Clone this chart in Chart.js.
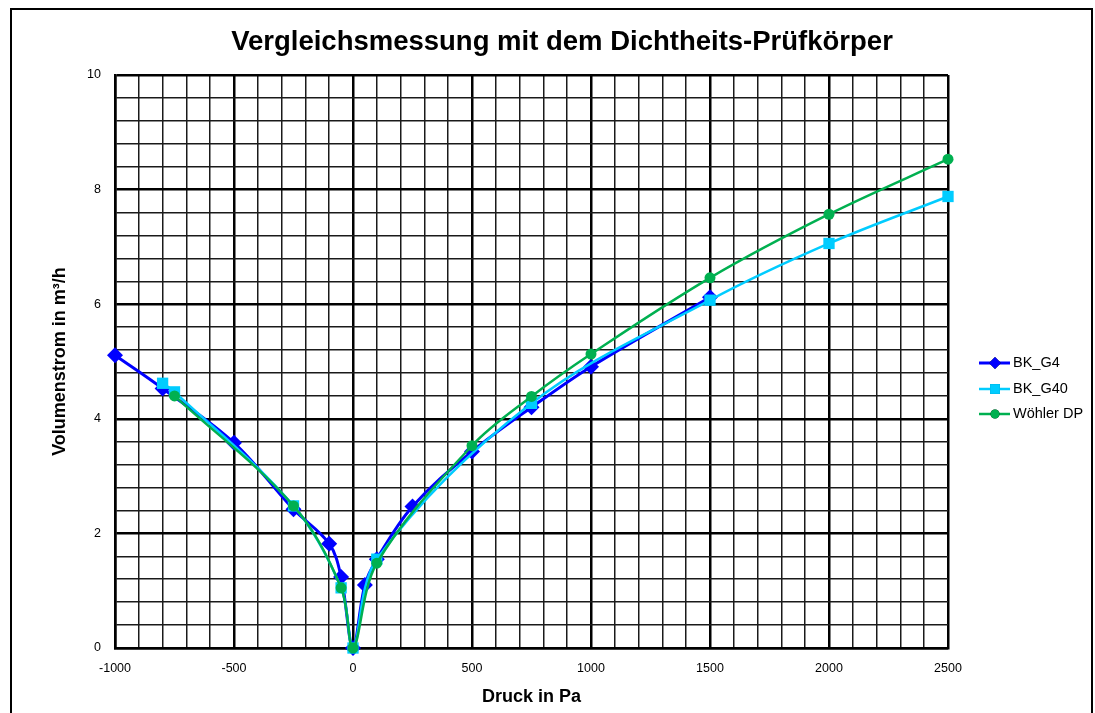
<!DOCTYPE html>
<html lang="de">
<head>
<meta charset="utf-8">
<title>Vergleichsmessung mit dem Dichtheits-Prüfkörper</title>
<script src="https://cdn.jsdelivr.net/npm/chart.js@4.4.1/dist/chart.umd.min.js"></script>
<style>
  html, body { margin: 0; padding: 0; background: #fff; }
  #wrap { width: 1095px; height: 713px; }
</style>
</head>
<body>
<div id="wrap"><canvas id="myChart" width="1095" height="713"></canvas></div>
<script>
// Messwerte (Druck in Pa / Volumenstrom in m³/h)
const bkG4Druck = [-1000, -800, -500, -250, -100, -50, 0, 50, 100, 250, 500, 750, 1000, 1500];
const bkG4Strom = [5.11, 4.53, 3.58, 2.42, 1.82, 1.24, 0, 1.10, 1.55, 2.47, 3.43, 4.20, 4.91, 6.12];

const bkG40Druck = [-800, -750, -250, -50, 0, 100, 750, 1500, 2000, 2500];
const bkG40Strom = [4.62, 4.47, 2.48, 1.05, 0, 1.55, 4.27, 6.07, 7.06, 7.88];

const woehlerDruck = [-750, -250, -50, 0, 100, 500, 750, 1000, 1500, 2000, 2500];
const woehlerStrom = [4.40, 2.48, 1.05, 0, 1.48, 3.53, 4.39, 5.13, 6.46, 7.57, 8.53];

const seriesNames = ['BK_G4', 'BK_G40', 'Wöhler DP'];
const xTicks = [-1000, -500, 0, 500, 1000, 1500, 2000, 2500];
const yTicks = [0, 2, 4, 6, 8, 10];

const FONT = '"Liberation Sans", Arial, sans-serif';

function toPoints(xs, ys) {
  return xs.map((x, i) => ({ x: x, y: ys[i] }));
}

function isMajor(value, list) {
  return list.some(t => Math.abs(t - value) < 1e-6);
}

// Titel, Rahmen und Legende
const extras = {
  id: 'extras',
  afterDraw(chart) {
    const ctx = chart.ctx;
    ctx.save();
    ctx.strokeStyle = '#000';
    ctx.lineWidth = 2;
    ctx.strokeRect(11, 9, 1081, 720);

    ctx.fillStyle = '#000';
    ctx.font = 'bold 27.5px ' + FONT;
    ctx.textAlign = 'center';
    ctx.textBaseline = 'middle';
    ctx.fillText('Vergleichsmessung mit dem Dichtheits-Prüfkörper', 562, 42);

    const rows = [363, 389, 414];
    chart.data.datasets.forEach((ds, i) => {
      const y = rows[i];
      ctx.strokeStyle = ds.borderColor;
      ctx.lineWidth = ds.borderWidth;
      ctx.beginPath();
      ctx.moveTo(979, y);
      ctx.lineTo(1010, y);
      ctx.stroke();
      Chart.helpers.drawPoint(ctx, {
        pointStyle: ds.pointStyle,
        radius: ds.legendRadius,
        borderWidth: 0,
        rotation: 0
      }, 995, y);
      ctx.fillStyle = ds.backgroundColor;
      ctx.fill();
      ctx.fillStyle = '#000';
      ctx.font = '14.5px ' + FONT;
      ctx.textAlign = 'left';
      ctx.textBaseline = 'middle';
      ctx.fillText(seriesNames[i], 1013, y);
    });
    ctx.restore();
  }
};

document.addEventListener('DOMContentLoaded', () => {
  const ctx = document.getElementById('myChart').getContext('2d');
  new Chart(ctx, {
    type: 'scatter',
    data: {
      datasets: [
        {
          label: seriesNames[0],
          data: toPoints(bkG4Druck, bkG4Strom),
          borderColor: '#0000FF',
          backgroundColor: '#0000FF',
          borderWidth: 3,
          pointStyle: 'rectRot',
          pointRadius: 8,
          legendRadius: 6,
          order: 2
        },
        {
          label: seriesNames[1],
          data: toPoints(bkG40Druck, bkG40Strom),
          borderColor: '#00CCFF',
          backgroundColor: '#00CCFF',
          borderWidth: 2.5,
          pointStyle: 'rect',
          pointRadius: 8,
          legendRadius: 7,
          order: 1
        },
        {
          label: seriesNames[2],
          data: toPoints(woehlerDruck, woehlerStrom),
          borderColor: '#00B050',
          backgroundColor: '#00B050',
          borderWidth: 2.5,
          pointStyle: 'circle',
          pointRadius: 5.5,
          legendRadius: 4.5,
          order: 0
        }
      ].map(ds => Object.assign(ds, {
        showLine: true,
        tension: 0.35,
        pointBorderWidth: 0,
        pointHoverRadius: ds.pointRadius,
        clip: false
      }))
    },
    options: {
      responsive: false,
      animation: false,
      events: [],
      layout: { padding: { left: 12, top: 75, right: 147, bottom: 0 } },
      plugins: {
        legend: { display: false },
        title: { display: false },
        tooltip: { enabled: false }
      },
      scales: {
        x: {
          type: 'linear',
          min: -1000,
          max: 2500,
          afterFit(scale) { scale.height = 65; },
          ticks: {
            stepSize: 100,
            autoSkip: false,
            maxRotation: 0,
            maxTicksLimit: 100,
            padding: 13,
            color: '#000',
            font: { family: FONT, size: 12.5 },
            callback: v => isMajor(v, xTicks) ? String(Math.round(v)) : ''
          },
          grid: {
            drawTicks: false,
            color: c => isMajor(c.tick.value, xTicks) ? '#000' : '#1a1a1a',
            lineWidth: c => isMajor(c.tick.value, xTicks) ? 2.5 : 1.5
          },
          border: { color: '#000', width: 2.5 },
          title: {
            display: true,
            text: 'Druck in Pa',
            color: '#000',
            font: { family: FONT, size: 18, weight: 'bold' },
            padding: { top: 0, bottom: 5 }
          }
        },
        y: {
          type: 'linear',
          min: 0,
          max: 10,
          afterFit(scale) { scale.width = 103; },
          ticks: {
            stepSize: 0.4,
            autoSkip: false,
            maxTicksLimit: 100,
            padding: 14,
            color: '#000',
            font: { family: FONT, size: 12.5 },
            callback: v => isMajor(v, yTicks) ? String(Math.round(v)) : ''
          },
          grid: {
            drawTicks: false,
            color: c => isMajor(c.tick.value, yTicks) ? '#000' : '#1a1a1a',
            lineWidth: c => isMajor(c.tick.value, yTicks) ? 2.5 : 1.5
          },
          border: { color: '#000', width: 2.5 },
          title: {
            display: true,
            text: 'Volumenstrom in m³/h',
            color: '#000',
            font: { family: FONT, size: 18, weight: 'bold' },
            padding: { top: 37, bottom: 0 }
          }
        }
      }
    },
    plugins: [extras]
  });
});
</script>
</body>
</html>
